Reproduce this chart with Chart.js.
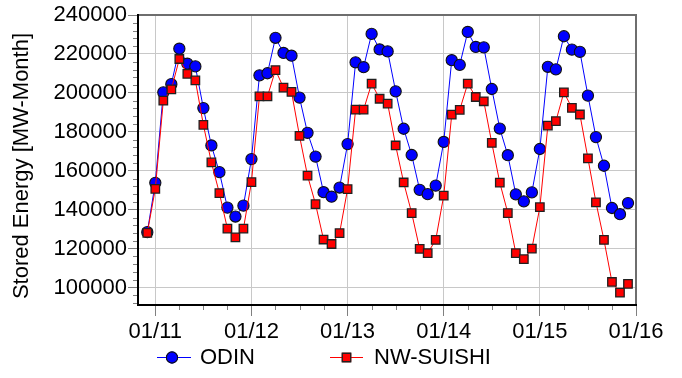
<!DOCTYPE html>
<html><head><meta charset="utf-8">
<script src="https://cdn.jsdelivr.net/npm/chart.js@4.4.1/dist/chart.umd.min.js"></script>
<style>html,body{margin:0;padding:0;background:#fff;}#wrap{width:682px;height:378px;position:relative;}</style>
</head><body><div id="wrap"><canvas id="c" width="682" height="378"></canvas></div>
<script>
// ---- data ----
const months = [
  "2010-12",
  "2011-01","2011-02","2011-03","2011-04","2011-05","2011-06","2011-07","2011-08","2011-09","2011-10","2011-11","2011-12",
  "2012-01","2012-02","2012-03","2012-04","2012-05","2012-06","2012-07","2012-08","2012-09","2012-10","2012-11","2012-12",
  "2013-01","2013-02","2013-03","2013-04","2013-05","2013-06","2013-07","2013-08","2013-09","2013-10","2013-11","2013-12",
  "2014-01","2014-02","2014-03","2014-04","2014-05","2014-06","2014-07","2014-08","2014-09","2014-10","2014-11","2014-12",
  "2015-01","2015-02","2015-03","2015-04","2015-05","2015-06","2015-07","2015-08","2015-09","2015-10","2015-11","2015-12"
];
const odin = [
  128500,
  153800,200300,204500,222700,215000,213600,192200,173000,159300,141100,136500,142100,
  166000,209000,210100,228300,220500,219100,197600,179500,167300,149000,146700,151400,
  173700,215700,213200,230300,222300,221300,200800,181600,168100,150200,148000,152400,
  174800,216800,214400,231300,223600,223400,202000,181700,168000,147900,144300,148900,
  171200,213400,212100,229100,222200,221100,198600,177300,162600,140900,137700,143400
];
const nwSuishi = [
  128100,
  150700,196000,201800,217400,209800,206400,183600,164300,148500,130300,125800,130300,
  154200,198200,198200,211700,202700,200500,177900,157500,142900,124700,122400,128000,
  150600,191400,191400,204800,197000,194500,173000,154000,138300,119900,117700,124500,
  147200,188800,191300,204800,197900,195700,174300,153900,138300,117700,114600,120000,
  141300,183200,185500,200300,192300,188900,166400,143800,124500,102900,97400,101900
];
const seriesNames = ["ODIN", "NW-SUISHI"];
const xTickLabels = ["01/11","01/12","01/13","01/14","01/15","01/16"];
const xTickMonths = [0, 12, 24, 36, 48, 60];
const yTicks = [100000,120000,140000,160000,180000,200000,220000,240000];
const yTitle = "Stored Energy [MW-Month]";

// ---- helpers ----
function monthIndex(s){ const p = s.split('-').map(Number); return (p[0]-2011)*12 + (p[1]-1); }
const FONT = '"Liberation Sans", Arial, Helvetica, sans-serif';

const decor = {
  id:'decor',
  afterDraw(chart){
    const ctx = chart.ctx, a = chart.chartArea;
    const xs = chart.scales.x, ys = chart.scales.y;
    ctx.save();
    // minor ticks y
    ctx.strokeStyle = '#808080'; ctx.lineWidth = 1;
    ctx.beginPath();
    for (let v = 92000; v <= 236000; v += 4000){
      if (v % 20000 === 0) continue;
      const y = Math.round(ys.getPixelForValue(v)) + 0.5;
      ctx.moveTo(a.left - 5, y); ctx.lineTo(a.left, y);
    }
    // minor ticks x (quarters)
    for (let m = -3; m <= 60; m += 3){
      if (m % 12 === 0) continue;
      if (m < xs.min || m > xs.max) continue;
      const x = Math.round(xs.getPixelForValue(m)) + 0.5;
      ctx.moveTo(x, a.bottom); ctx.lineTo(x, a.bottom + 5);
    }
    ctx.stroke();
    // frame
    ctx.lineWidth = 2;
    ctx.strokeStyle = '#6e6e6e';
    ctx.beginPath();
    ctx.moveTo(a.left, a.top); ctx.lineTo(a.right, a.top); ctx.lineTo(a.right, a.bottom);
    ctx.stroke();
    ctx.strokeStyle = '#000';
    ctx.beginPath();
    ctx.moveTo(a.left, a.top - 1); ctx.lineTo(a.left, a.bottom); ctx.lineTo(a.right + 1, a.bottom);
    ctx.stroke();
    // y title
    ctx.fillStyle = '#000';
    ctx.font = '22px ' + FONT;
    ctx.textAlign = 'center'; ctx.textBaseline = 'middle';
    ctx.translate(22, 166); ctx.rotate(-Math.PI/2);
    ctx.fillText(yTitle, 0, 0);
    ctx.setTransform(1,0,0,1,0,0);
    // legend
    const ly = 357;
    const items = [
      {ds: chart.data.datasets[1], x0:157, x1:191, mx:172, tx:200},
      {ds: chart.data.datasets[0], x0:330, x1:363, mx:346.5, tx:374}
    ];
    items.forEach(it => {
      const ds = it.ds;
      ctx.strokeStyle = ds.borderColor; ctx.lineWidth = 1;
      ctx.beginPath(); ctx.moveTo(it.x0, ly + 0.5); ctx.lineTo(it.x1, ly + 0.5); ctx.stroke();
      Chart.helpers.drawPoint(ctx, {pointStyle: ds.pointStyle, rotation:0, radius: ds.pointRadius, borderWidth: ds.pointBorderWidth}, it.mx, ly + 0.5);
      ctx.fillStyle = ds.pointBackgroundColor; ctx.strokeStyle = ds.pointBorderColor; ctx.lineWidth = ds.pointBorderWidth;
      ctx.beginPath();
      if (ds.pointStyle === 'rect'){
        const s = ds.pointRadius * Math.SQRT1_2;
        ctx.rect(it.mx - s, ly + 0.5 - s, 2*s, 2*s);
      } else {
        ctx.arc(it.mx, ly + 0.5, ds.pointRadius, 0, Math.PI*2);
      }
      ctx.fill(); ctx.stroke();
      ctx.fillStyle = '#000';
      ctx.textAlign = 'left'; ctx.textBaseline = 'middle';
      ctx.fillText(ds.label, it.tx, ly + 1);
    });
    ctx.restore();
  }
};

const ctx = document.getElementById('c').getContext('2d');
new Chart(ctx, {
  type: 'line',
  data: {
    datasets: [
      {
        label: seriesNames[1],
        data: months.map((m, i) => ({x: monthIndex(m), y: nwSuishi[i]})),
        borderColor: '#ff0000', backgroundColor: '#ff0000', borderWidth: 1,
        pointStyle: 'rect', pointRadius: 6, pointBorderColor: '#202020', pointBorderWidth: 1.3,
        pointBackgroundColor: '#ff0000', tension: 0, order: 0
      },
      {
        label: seriesNames[0],
        data: months.map((m, i) => ({x: monthIndex(m), y: odin[i]})),
        borderColor: '#0000ff', backgroundColor: '#0000ff', borderWidth: 1,
        pointStyle: 'circle', pointRadius: 5.6, pointBorderColor: '#101010', pointBorderWidth: 1.1,
        pointBackgroundColor: '#0000ff', tension: 0, order: 1
      }
    ]
  },
  options: {
    responsive: false, animation: false, events: [],
    layout: {padding: {left: 0, right: 46, top: 15, bottom: 0}},
    plugins: {legend: {display: false}, tooltip: {enabled: false}, title: {display: false}},
    scales: {
      x: {
        type: 'linear', min: -2.16, max: 60,
        afterBuildTicks: s => { s.ticks = xTickMonths.map(v => ({value: v})); },
        afterFit: s => { s.height = 73; },
        ticks: {autoSkip: false, maxRotation: 0, minRotation: 0, padding: 3,
          callback: (v, i) => xTickLabels[i], color: '#000', font: {family: FONT, size: 22}},
        grid: {color: '#c8c8c8', tickColor: '#808080', tickLength: 11, lineWidth: 1},
        border: {display: false}
      },
      y: {
        type: 'linear', min: 91080, max: 240000,
        afterBuildTicks: s => { s.ticks = yTicks.map(v => ({value: v})); },
        afterFit: s => { s.width = 138; },
        ticks: {padding: 1, callback: v => String(v), color: '#000', font: {family: FONT, size: 22}},
        grid: {color: '#c8c8c8', tickColor: '#808080', tickLength: 10, lineWidth: 1},
        border: {display: false}
      }
    }
  },
  plugins: [decor]
});
</script>
</body></html>
